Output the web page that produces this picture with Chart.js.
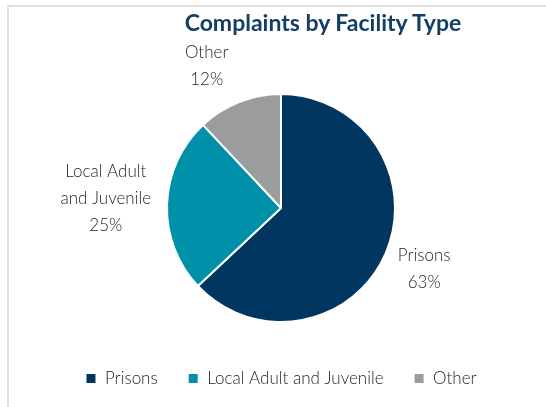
<!DOCTYPE html>
<html>
<head>
<meta charset="utf-8">
<script src="https://cdn.jsdelivr.net/npm/chart.js@4.4.0/dist/chart.umd.min.js"></script>
<style>
  html, body { margin: 0; padding: 0; background: #fff; }
  body { width: 546px; height: 407px; position: relative; overflow: hidden; font-family: Lato, sans-serif; }
  /* light card edge on top and left */
  #frame { position: absolute; left: 7px; top: 5px; width: 600px; height: 500px;
           border-top: 2px solid #e0e0e0; border-left: 2px solid #e0e0e0; }
  #title { position: absolute; left: 323px; top: 9px; transform: translateX(-50%);
           white-space: nowrap; font: 700 23px/27px Lato, sans-serif; color: #153e66; }
  #chart { position: absolute; left: 0; top: 0; }
</style>
</head>
<body>
<div id="frame"></div>
<canvas id="chart" width="546" height="407"></canvas>
<div id="title">Complaints by Facility Type</div>
<script>
const categories = ['Prisons', 'Local Adult and Juvenile', 'Other'];
const shares = [63, 25, 12];
const sliceText = [['Prisons'], ['Local Adult', 'and Juvenile'], ['Other']];
const sliceColors = ['#00365f', '#0090a9', '#9b9c9e'];

// label placement around the pie
const LABEL_GAP = 20;
const LINE_H = 27;
const labelNudge = [[-4, -3], [4, -4], [-17, 8]];

const sliceLabels = {
    id: 'sliceLabels',
    afterDatasetsDraw(chart) {
        const ctx = chart.ctx;
        const meta = chart.getDatasetMeta(0);
        ctx.save();
        ctx.font = '300 17px Lato, sans-serif';
        ctx.fillStyle = '#1f1f1f';
        ctx.textAlign = 'center';
        ctx.textBaseline = 'middle';
        meta.data.forEach((arc, i) => {
            const p = arc.getProps(['x', 'y', 'startAngle', 'endAngle', 'outerRadius'], true);
            const mid = (p.startAngle + p.endAngle) / 2;
            const lines = sliceText[i].concat(shares[i] + '%');
            const w = Math.max(...lines.map(t => ctx.measureText(t).width));
            const h = lines.length * LINE_H;
            const dx = Math.cos(mid), dy = Math.sin(mid);
            const cx = p.x + dx * (p.outerRadius + LABEL_GAP + w / 2) + labelNudge[i][0];
            const cy = p.y + dy * (p.outerRadius + LABEL_GAP + h / 2) + labelNudge[i][1];
            lines.forEach((t, k) => ctx.fillText(t, cx, cy - h / 2 + LINE_H * (k + 0.5)));
        });
        ctx.restore();
    }
};

new Chart(document.getElementById('chart'), {
    type: 'pie',
    data: {
        labels: categories,
        datasets: [{
            data: shares,
            backgroundColor: sliceColors,
            borderColor: '#ffffff',
            borderWidth: 2,
            radius: 114
        }]
    },
    options: {
        responsive: false,
        animation: false,
        devicePixelRatio: 1,
        layout: { padding: { top: 76, bottom: 10, left: 16, right: 0 } },
        plugins: {
            tooltip: { enabled: false },
            legend: {
                position: 'bottom',
                labels: {
                    boxWidth: 11,
                    boxHeight: 11,
                    padding: 30,
                    color: '#1f1f1f',
                    font: { family: 'Lato', size: 17, weight: '300' }
                }
            }
        }
    },
    plugins: [sliceLabels]
});
</script>
</body>
</html>
